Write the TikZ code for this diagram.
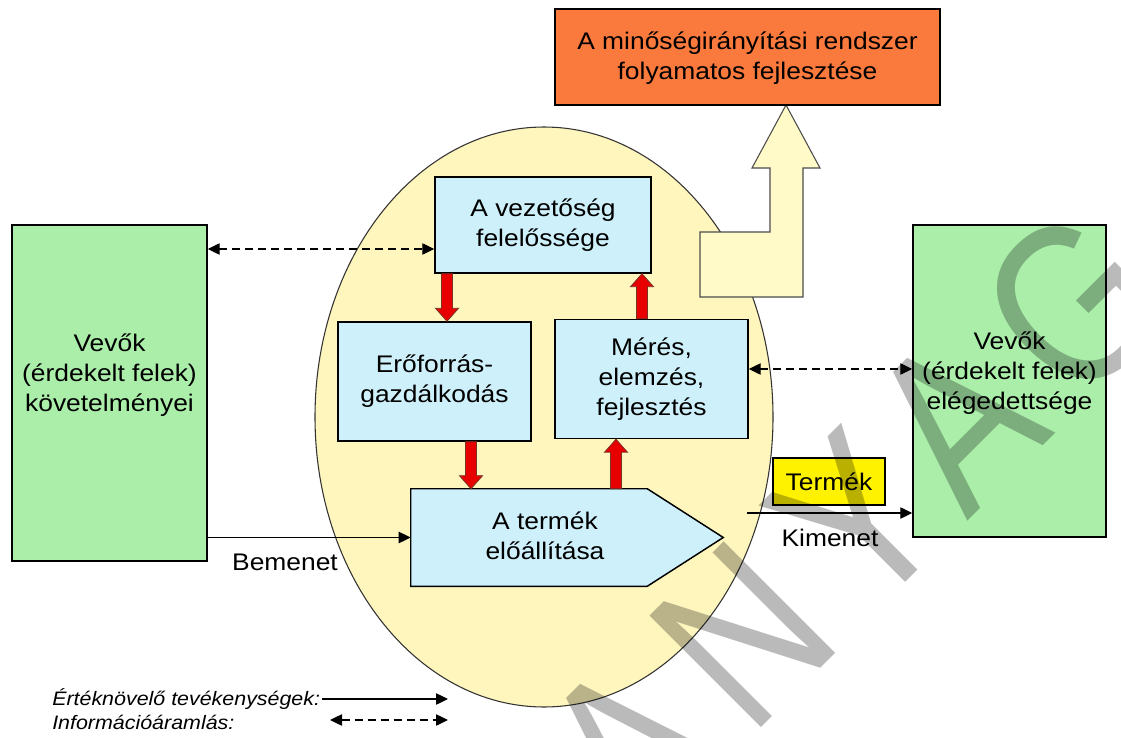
\documentclass[tikz,border=0pt]{standalone}
\usepackage{fontspec}
\setmainfont{Liberation Sans}[FakeStretch=1.1]
\newfontfamily\wmfont{Liberation Sans}[FakeStretch=0.82,LetterSpace=13]
\usetikzlibrary{arrows.meta,calc}
\definecolor{boxgreen}{RGB}{170,238,170}
\definecolor{boxblue}{RGB}{206,240,250}
\definecolor{ellyellow}{RGB}{255,246,190}
\definecolor{orangebox}{RGB}{250,122,62}
\definecolor{arrowyellow}{RGB}{255,250,200}
\definecolor{termyellow}{RGB}{255,242,0}
\definecolor{redarrow}{RGB}{232,0,0}
\definecolor{redborder}{RGB}{120,50,40}
\tikzset{
  maintext/.style={font=\fontsize{18}{22.5}\selectfont, align=center, inner sep=0pt},
  legendtext/.style={font=\fontsize{14.6}{18}\selectfont\itshape, inner sep=0pt},
  frame/.style={draw=black, line width=1.1pt, inner sep=0pt},
  greenbox/.style={frame, fill=boxgreen},
  bluebox/.style={frame, fill=boxblue},
  conn/.style={line width=1pt, -{Triangle[length=9pt,width=8.5pt]}},
  info/.style={line width=1pt, dash pattern=on 6pt off 3.75pt,
     {Triangle[length=9pt,width=8.5pt]}-{Triangle[length=9pt,width=8.5pt]}},
  redblk/.style={fill=redarrow, draw=redborder, line width=0.6pt, line join=miter},
  wm/.style={rotate=45, font=\wmfont\fontsize{172}{172}\selectfont, text=black, text opacity=0.27, inner sep=0pt}
}
\begin{document}
\begin{tikzpicture}[x=0.75pt,y=-0.75pt]
\clip (0,0) rectangle (1121,738);
\fill[white] (0,0) rectangle (1121,738);

% ellipse
\draw[fill=ellyellow, draw=black!80, line width=0.8pt] (544,417) ellipse [x radius=229, y radius=290];

% big bent arrow
\draw[fill=arrowyellow, draw=black!70, line width=0.8pt, line join=miter]
  (786,105) -- (820,168) -- (803,168) -- (803,297) -- (700,297) -- (700,232)
  -- (770,232) -- (770,168) -- (752,168) -- cycle;

% boxes
\node[frame, fill=orangebox, minimum width=288.75pt, minimum height=72pt] (qms) at (747.5,57) {};
\node[maintext] (qmstext) at (747.5,58) {A minőségirányítási rendszer\\folyamatos fejlesztése};

\node[greenbox, minimum width=146.25pt, minimum height=252pt] (vl) at (109.5,393) {};
\node[maintext] (vltext) at (109.5,375) {Vevők\\(érdekelt felek)\\követelményei};

\node[greenbox, minimum width=144.75pt, minimum height=234pt] (vr) at (1009.5,381) {};
\node[maintext] (vrtext) at (1009.5,373) {Vevők\\(érdekelt felek)\\elégedettsége};

\node[bluebox, minimum width=162pt, minimum height=72pt, maintext] (vez) at (543,225) {A vezetőség\\felelőssége};
\node[bluebox, minimum width=144.75pt, minimum height=89.25pt, maintext] (erof) at (434.5,381.5) {Erőforrás-\\gazdálkodás};
\node[bluebox, minimum width=144.75pt, minimum height=89.25pt, maintext] (meres) at (651.5,379) {Mérés,\\elemzés,\\fejlesztés};

% product pentagon
\node[minimum width=234pt, minimum height=72.75pt, inner sep=0pt] (termek) at (567,537.5) {};
\draw[frame, fill=boxblue, line join=miter]
  (termek.north west) -- ($(termek.north east)+(-76,0)$) -- (termek.east)
  -- ($(termek.south east)+(-76,0)$) -- (termek.south west) -- cycle;
\node[maintext] (termektext) at (545,536) {A termék\\előállítása};

\node[frame, fill=termyellow, minimum width=84pt, minimum height=35.25pt, maintext] (prod) at (829,481.5) {Termék};

% red block arrows
\coordinate (xa) at (447,0);
\coordinate (xb) at (471,0);
\coordinate (xc) at (616,0);
\coordinate (xd) at (642,0);
\coordinate (a1) at (vez.south -| xa);  \coordinate (b1) at (erof.north -| xa);
\coordinate (a2) at (erof.south -| xb); \coordinate (b2) at (termek.north -| xb);
\coordinate (a3) at (termek.north -| xc); \coordinate (b3) at (meres.south -| xc);
\coordinate (a4) at (meres.north -| xd); \coordinate (b4) at (vez.south -| xd);
\foreach \s/\t in {a1/b1,a2/b2}{
  \draw[redblk] ($(\s)+(-5.5,0)$) -- ($(\t)+(-5.5,-13)$) -- ($(\t)+(-11.5,-13)$) -- (\t)
    -- ($(\t)+(11.5,-13)$) -- ($(\t)+(5.5,-13)$) -- ($(\s)+(5.5,0)$) -- cycle;
}
\foreach \s/\t in {a3/b3,a4/b4}{
  \draw[redblk] ($(\s)+(-5.5,0)$) -- ($(\t)+(-5.5,13)$) -- ($(\t)+(-11.5,13)$) -- (\t)
    -- ($(\t)+(11.5,13)$) -- ($(\t)+(5.5,13)$) -- ($(\s)+(5.5,0)$) -- cycle;
}

% connectors
\coordinate (d1) at (0,249);
\coordinate (d2) at (0,369);
\draw[info] (vl.east |- d1) -- (vez.west |- d1);
\draw[info] (meres.east |- d2) -- (vr.west |- d2);
\draw[conn] (vl.east |- termek.west) -- (termek.west);
\coordinate (kout) at (747,513);
\draw[conn] (kout) -- (vr.west |- kout);
\node[maintext] (bem) at (285,562) {Bemenet};
\node[maintext] (kim) at (830,538) {Kimenet};

% legend
\node[legendtext, anchor=west] (lg1) at (52,699) {Értéknövelő tevékenységek:};
\node[legendtext, anchor=west] (lg2) at (52,722) {Információáramlás:};
\coordinate (l1s) at (322,699); \coordinate (l1e) at (448,699);
\coordinate (l2s) at (330,720); \coordinate (l2e) at (448,720);
\draw[conn] (l1s) -- (l1e);
\draw[info] (l2s) -- (l2e);

% watermark
\node[wm] (wmark) at (855,522) {ANYAG};
\end{tikzpicture}
\end{document}
